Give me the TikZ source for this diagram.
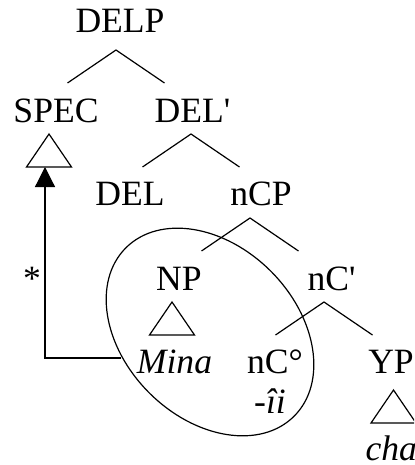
\documentclass[tikz,border=0pt]{standalone}
\usepackage{fontspec}
\setmainfont{Liberation Serif}
\usetikzlibrary{arrows.meta,calc,shapes.geometric}

\begin{document}
\begin{tikzpicture}[x=0.5pt, y=-0.5pt, line width=0.6pt,
 font=\fontsize{17.8}{20}\selectfont,
 lbl/.style={anchor=base,inner sep=0pt},
 arr/.style={-{Triangle[length=10pt,width=10pt]}},
 tri/.pic={\draw (0,0)--(-22.5,33)--(22.5,33)--cycle; \coordinate (-base) at (0,33);},
 fork/.pic={\draw (-48.5,33)--(0,0)--(48.5,33);}]
\path[use as bounding box, clip] (0,0) rectangle (414,465);
\node[lbl] (delp) at (120,33) {DELP};
\node[lbl] (spec) at (56,122) {SPEC};
\node[lbl] (delbar) at (192.5,122) {DEL\textquotesingle};
\node[lbl] (del) at (130,205) {DEL};
\node[lbl] (ncp) at (261,205) {nCP};
\node[lbl] (np) at (179,290) {NP};
\node[lbl] (ncbar) at (331.5,290) {nC\textquotesingle};
\node[lbl] (mina) at (174.5,373) {\textit{Mina}};
\node[lbl] (nczero) at (275,373) {nC°};
\node[lbl] (suffix) at (270,413) {\textit{-îi}};
\node[lbl] (yp) at (391,373) {YP};
\node[lbl,anchor=base west] (cha) at (365,460) {\textit{cha}};
\node[lbl] (star) at (32,290) {*};
\pic at ($(delp.base)+(-4,17)$) {fork};
\pic at ($(delbar.base)+(-1.5,12)$) {fork};
\pic at ($(ncp.base)+(-11,13)$) {fork};
\pic at ($(ncbar.base)+(-7.5,12)$) {fork};
\pic (spectri) at ($(spec.base)+(-7,12)$) {tri};
\pic (nptri) at ($(np.base)+(-7,12)$) {tri};
\pic (yptri) at ($(yp.base)+(2.5,17)$) {tri};
\node[draw,ellipse,minimum width=119pt,minimum height=86pt,inner sep=0pt,rotate=-45] (dom) at (210,332) {};
\coordinate (mv) at (121,358);
\draw[arr] (mv) -| ([xshift=-2pt]spectri-base);
\end{tikzpicture}
\end{document}
